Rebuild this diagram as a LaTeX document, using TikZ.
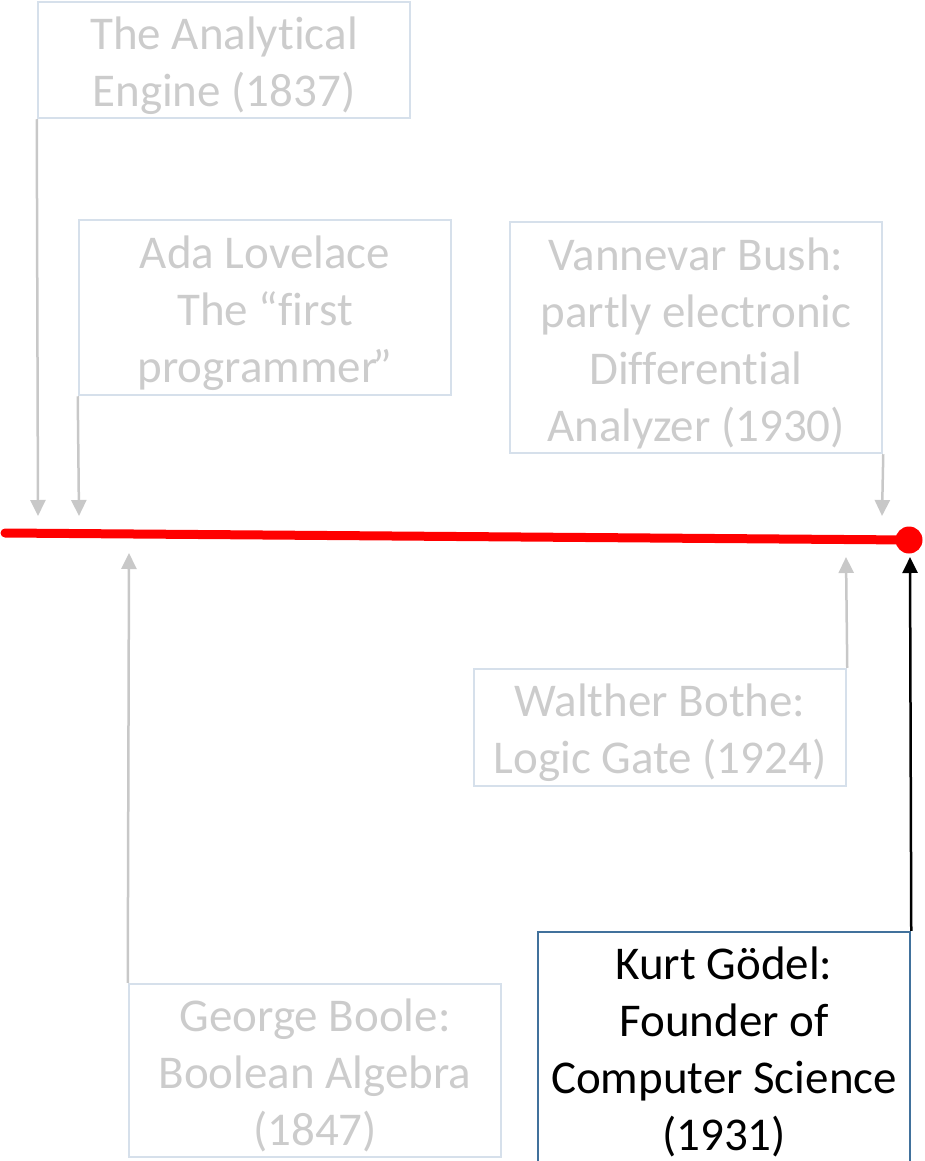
\documentclass[tikz,border=0pt]{standalone}
\usepackage{fontspec}
\setmainfont{Carlito}[Ligatures={NoCommon,NoContextual}]
\usetikzlibrary{arrows.meta}
\definecolor{fadedtext}{RGB}{204,204,204}
\definecolor{fadedbox}{RGB}{214,224,235}
\definecolor{fadedline}{RGB}{200,200,200}
\definecolor{activebox}{RGB}{65,113,156}
\definecolor{timeline}{RGB}{255,0,0}
\tikzset{
  eventbox/.style={draw, line width=2.5pt, minimum width=372pt, inner sep=0pt},
  fadedbox/.style={eventbox, draw=fadedbox},
  activebox/.style={eventbox, draw=activebox},
  eventtext/.style={inner sep=0pt, align=center, font=\fontsize{47}{57}\selectfont},
  fadedlabel/.style={eventtext, text=fadedtext},
  activelabel/.style={eventtext, text=black},
  pointer/.style={line width=2.5pt, -{Triangle[width=15pt,length=16pt]}},
  fadedpointer/.style={pointer, draw=fadedline, fill=fadedline},
  activepointer/.style={pointer, draw=black, fill=black},
}
\begin{document}
\begin{tikzpicture}[x=1pt, y=-1pt]
\useasboundingbox (0,0) rectangle (924,1161);
\clip (0,0) rectangle (924,1161);

% event boxes above the timeline
\node[fadedbox, minimum height=116pt] (engine) at (224,60) {};
\node[fadedbox, minimum height=175pt] (ada) at (265,307.5) {};
\node[fadedbox, minimum height=231pt] (bush) at (696,337.5) {};

% event boxes below the timeline
\node[fadedbox, minimum height=117pt] (bothe) at (660,727.5) {};
\node[fadedbox, minimum height=173pt] (boole) at (315,1070.5) {};
\node[activebox, minimum height=239pt] (godel) at (724,1051.5) {};

% their captions
\node[fadedlabel] (engineText) at ([yshift=-6pt]engine.center) {The Analytical\\Engine (1837)};
\node[fadedlabel] (adaText) at ([yshift=-6pt]ada.center) {Ada Lovelace\\The “first\\programmer\kern-5pt”};
\node[fadedlabel] (bushText) at ([yshift=-6pt]bush.center) {Vannevar Bush:\\partly electronic\\Differential\\Analyzer (1930)};
\node[fadedlabel] (botheText) at ([yshift=-5pt]bothe.center) {Walther Bothe:\\Logic Gate (1924)};
\node[fadedlabel] (booleText) at ([yshift=-5pt]boole.center) {George Boole:\\Boolean Algebra\\(1847)};
\node[activelabel] (godelText) at (godel.center) {Kurt Gödel:\\Founder of\\Computer Science\\(1931)};

% the timeline itself
\coordinate (start) at (5,533);
\node[circle, fill=timeline, inner sep=0pt, minimum size=27pt] (now) at (909,540) {};
\draw[timeline, line width=9pt, line cap=round] (start) -- (now.center);

% where each pointer meets the timeline
\coordinate (tEngine) at (38,516);
\coordinate (tAda) at (79,516);
\coordinate (tBush) at (882,516);
\coordinate (tBoole) at (129,553);
\coordinate (tBothe) at (846,557);
\coordinate (tGodel) at (910,557);

\draw[fadedpointer] (engine.south west) -- (tEngine);
\draw[fadedpointer] (ada.south west) -- (tAda);
\draw[fadedpointer] (bush.south east) -- (tBush);
\draw[fadedpointer] (boole.north west) -- (tBoole);
\draw[fadedpointer] (bothe.north east) -- (tBothe);
\draw[activepointer] (godel.north east) -- (tGodel);
\end{tikzpicture}
\end{document}
